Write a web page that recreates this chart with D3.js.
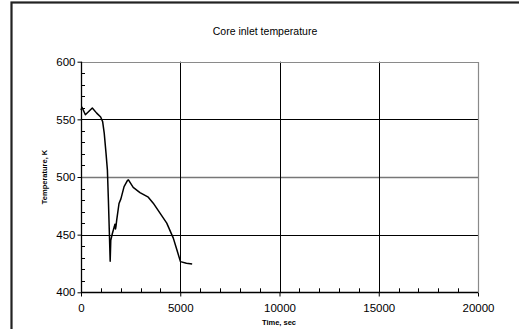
<!DOCTYPE html>
<html><head><meta charset="utf-8">
<script src="https://cdn.jsdelivr.net/npm/d3@7"></script>
<style>body{margin:0;background:#fff}svg{display:block;font-family:"Liberation Sans",Arial,sans-serif}</style>
</head><body><svg id="c" width="519" height="329"></svg>
<script>
const title = "Core inlet temperature";
const xLabel = "Time, sec";
const yLabel = "Temperature, K";
const xTicks = [0, 5000, 10000, 15000, 20000];
const yTicks = [400, 450, 500, 550, 600];
const timeSec = [0, 50, 220, 570, 790, 990, 1090, 1170, 1260, 1330, 1380, 1430, 1470, 1500, 1580, 1680, 1710, 1740, 1760, 1800, 1915, 2010, 2170, 2350, 2390, 2630, 2970, 3390, 3640, 3980, 4320, 4650, 4810, 5010, 5310, 5600];
const tempK = [558, 560.5, 554, 559.8, 555.4, 552, 548, 538, 520.7, 506, 480, 451, 427, 445, 451, 457, 459, 455, 457, 462.8, 477, 481, 491.7, 497.3, 497.5, 491, 486.5, 482.5, 477.3, 468.6, 460, 447, 438, 426.6, 425.2, 424.6];

const svg = d3.select("#c");
const L = 81, R = 478, T = 61.7, B = 292.3;
const x = d3.scaleLinear().domain([0, 20000]).range([L, R]);
const y = d3.scaleLinear().domain([400, 600]).range([B, T]);

// outer frame
svg.append("rect").attr("x", 11.5).attr("y", 2.5).attr("width", 520).attr("height", 340)
  .attr("fill", "none").attr("stroke", "#222").attr("stroke-width", 2.2);

// gridlines
svg.append("g").selectAll("line").data(yTicks.filter(v => v > 400 && v < 600)).join("line")
  .attr("x1", L).attr("x2", R).attr("y1", d => Math.round(y(d)) + 0.5).attr("y2", d => Math.round(y(d)) + 0.5)
  .attr("stroke", d => d === 500 ? "#777" : "#000").attr("stroke-width", d => d === 500 ? 1.6 : 1);
svg.append("g").selectAll("line").data(xTicks.filter(v => v > 0 && v < 20000)).join("line")
  .attr("y1", T).attr("y2", B).attr("x1", d => Math.round(x(d)) + 0.5).attr("x2", d => Math.round(x(d)) + 0.5)
  .attr("stroke", "#000");
// plot border top/right gray
svg.append("path").attr("d", `M${L},${Math.round(T)+0.5}H${Math.round(R)+0.5}V${B}`)
  .attr("fill", "none").attr("stroke", "#8a8a8a").attr("stroke-width", 1.2);

// minor ticks
const yMinor = d3.range(400, 601, 10).filter(v => v % 50 !== 0);
svg.append("g").selectAll("line").data(yMinor).join("line")
  .attr("x1", L).attr("x2", L + 4).attr("y1", d => Math.round(y(d)) + 0.5).attr("y2", d => Math.round(y(d)) + 0.5)
  .attr("stroke", "#000");
const xMinor = d3.range(0, 20001, 1000).filter(v => v % 5000 !== 0);
svg.append("g").selectAll("line").data(xMinor).join("line")
  .attr("y1", B).attr("y2", B - 4).attr("x1", d => Math.round(x(d)) + 0.5).attr("x2", d => Math.round(x(d)) + 0.5)
  .attr("stroke", "#000");

// axes
const yAxis = d3.axisLeft(y).tickValues(yTicks).tickFormat(d3.format("d")).tickSize(4).tickPadding(2);
const gy = svg.append("g").attr("transform", `translate(${L + 0.5},0)`).call(yAxis);
const xAxis = d3.axisBottom(x).tickValues(xTicks).tickFormat(d3.format("d")).tickSize(4).tickPadding(7);
const gx = svg.append("g").attr("transform", `translate(0,${Math.round(B) + 0.5})`).call(xAxis);
[gx, gy].forEach(g => {
  g.select(".domain").attr("stroke", "#000").attr("stroke-width", 1.3);
  g.selectAll(".tick line").attr("stroke", "#000");
  g.selectAll(".tick text").attr("font-size", 11.5).attr("fill", "#000")
    .attr("font-family", "'Liberation Sans', Arial, sans-serif");
});
gy.select(".domain").attr("d", `M0,${T}V${B}`);
gx.select(".domain").attr("d", `M${L},0H${R}`);
gy.selectAll(".tick line").attr("x2", -4);

// line
const line = d3.line().x((d, i) => x(timeSec[i])).y(d => y(d)).curve(d3.curveLinear);
svg.append("path").datum(tempK).attr("d", line).attr("fill", "none")
  .attr("stroke", "#000").attr("stroke-width", 1.5).attr("stroke-linejoin", "round");

// texts
svg.append("text").attr("x", 265).attr("y", 35).attr("text-anchor", "middle")
  .attr("font-size", 10.5).text(title);
svg.append("text").attr("x", 279).attr("y", 325).attr("text-anchor", "middle")
  .attr("font-size", 7.5).attr("font-weight", "bold").text(xLabel);
svg.append("text").attr("transform", "translate(47,177) rotate(-90)").attr("text-anchor", "middle")
  .attr("font-size", 7.5).attr("font-weight", "bold").text(yLabel);
</script></body></html>
